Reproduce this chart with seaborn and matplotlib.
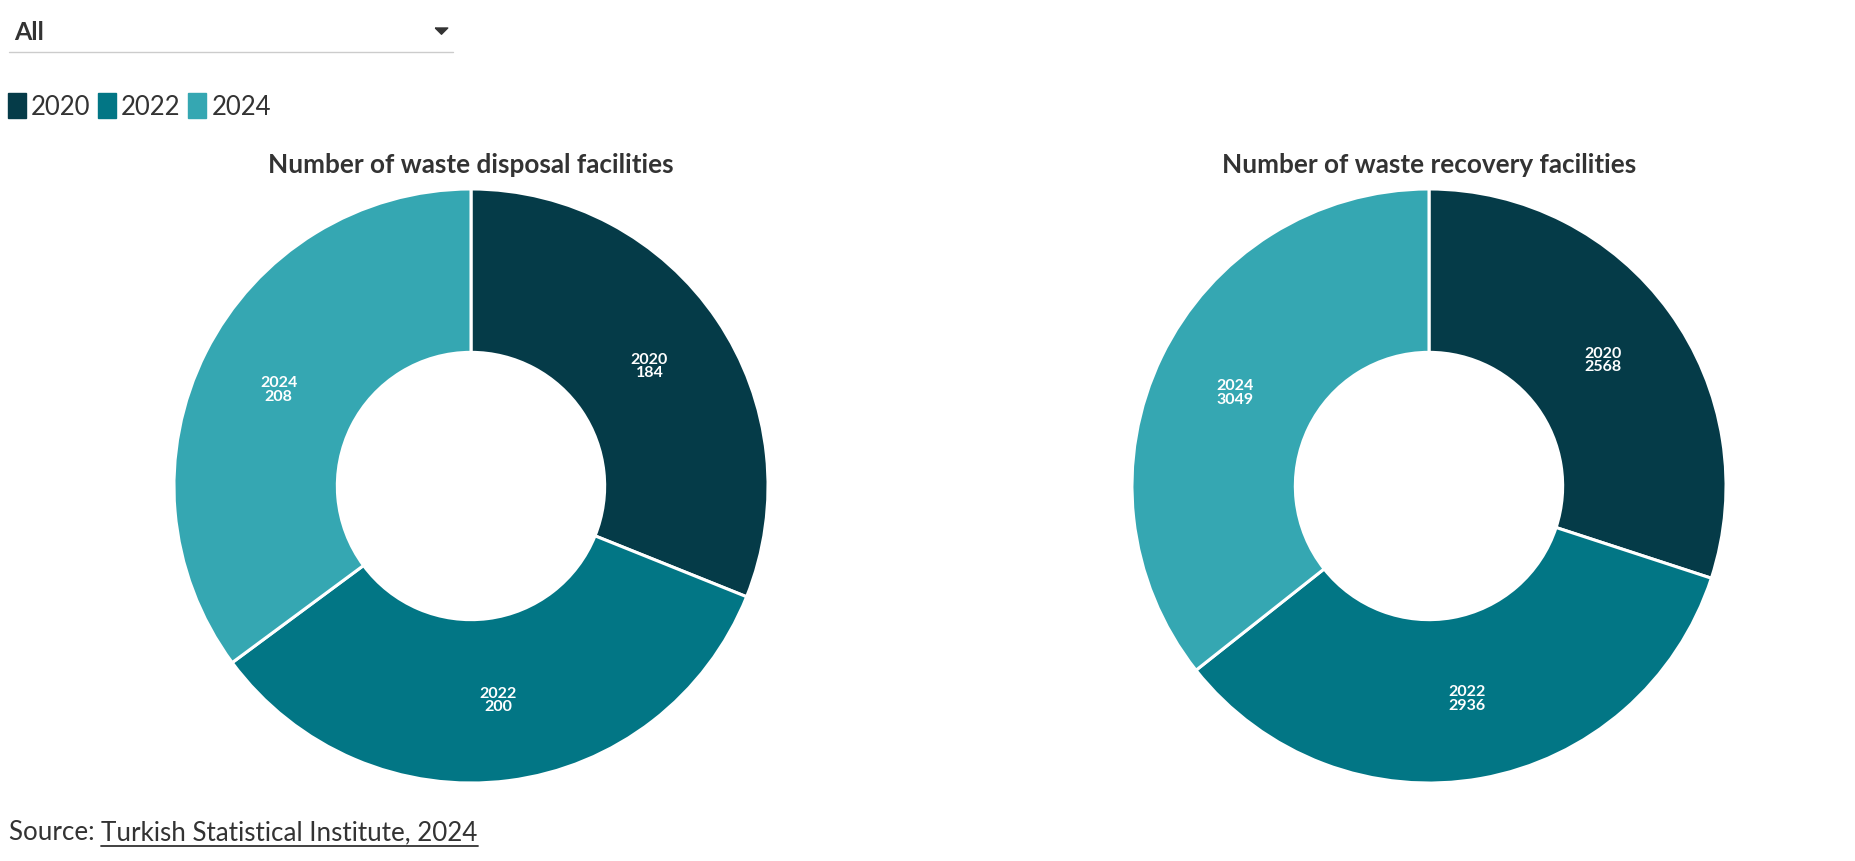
import matplotlib
matplotlib.use("Agg")
import numpy as np
import matplotlib.pyplot as plt
import seaborn as sns
from matplotlib.lines import Line2D
from matplotlib.patches import Patch

# data
years = ["2020", "2022", "2024"]
disposal = [184, 200, 208]
recovery = [2568, 2936, 3049]
titles = ["Number of waste disposal facilities", "Number of waste recovery facilities"]
source_label = "Source: "
source_link = "Turkish Statistical Institute, 2024"

colors = sns.color_palette(["#053b48", "#027685", "#35a7b2"])
text_color = "#333333"

sns.set_theme(style="white")
plt.rcParams["font.family"] = ["Lato", "DejaVu Sans"]

W, H = 1856, 862
fig = plt.figure(figsize=(W / 100, H / 100), dpi=100)
fig.patch.set_facecolor("white")


def px(x, y):
    # pixel coords (top-left origin) -> figure fraction
    return x / W, 1 - y / H


def donut(cx, cy, r, values, title):
    ax = fig.add_axes([(cx - r) / W, (H - cy - r) / H, 2 * r / W, 2 * r / H])
    ax.pie(
        values,
        colors=colors,
        startangle=90,
        counterclock=False,
        radius=1,
        wedgeprops=dict(width=0.55, edgecolor="white", linewidth=2.2, joinstyle="round"),
    )
    total = sum(values)
    start = 90.0
    for yr, v in zip(years, values):
        ang = start - 360.0 * v / total / 2
        start -= 360.0 * v / total
        rr = 1 - 0.55 / 2
        ax.text(rr * np.cos(np.radians(ang)), rr * np.sin(np.radians(ang)),
                f"{yr}\n{v}", ha="center", va="center", color="white",
                fontsize=11.5, fontweight="bold", linespacing=0.95)
    ax.set_xlim(-1.01, 1.01)
    ax.set_ylim(-1.01, 1.01)
    ax.set_aspect("equal")
    ax.axis("off")
    fig.text(*px(cx, 165), title, ha="center", va="center", fontsize=18.8,
             fontweight="bold", color=text_color)


donut(471, 487, 300, disposal, titles[0])
donut(1429, 487, 300, recovery, titles[1])

# dropdown
fig.text(*px(14, 32), "All", ha="left", va="center", fontsize=18,
         fontweight="bold", color=text_color)
fig.add_artist(Line2D([9 / W, 453 / W], [1 - 53 / H, 1 - 53 / H], color="#cccccc",
                      linewidth=1, transform=fig.transFigure))
caret = [(-1, 0.4), (1, 0.4), (0, -0.6), (-1, 0.4)]
fig.add_artist(Line2D([441 / W], [1 - 31 / H], marker=caret, markersize=9,
                      color=text_color, linestyle="none", transform=fig.transFigure))

# legend
handles = [Patch(facecolor=c, edgecolor=c, label=y) for c, y in zip(colors, years)]
fig.legend(handles=handles, loc="center left", bbox_to_anchor=px(0, 107),
           ncol=3, frameon=False, fontsize=18.5, handlelength=0.7, handleheight=1.1,
           handletextpad=0.2, columnspacing=0.3, labelcolor=text_color,
           borderaxespad=0, borderpad=0.3)

# source
t = fig.text(*px(9, 833), source_label, ha="left", va="center", fontsize=18.7, color=text_color)
fig.canvas.draw()
bb = t.get_window_extent()
lt = fig.text(bb.x1 / W, 1 - 833 / H, source_link, ha="left", va="center", fontsize=18.7,
              color=text_color)
fig.canvas.draw()
lb = lt.get_window_extent()
fig.add_artist(Line2D([lb.x0 / W, lb.x1 / W], [(lb.y0 - 1) / H, (lb.y0 - 1) / H],
                      color=text_color, linewidth=1.3, transform=fig.transFigure))

fig.savefig("out.png", dpi=100, facecolor="white")
